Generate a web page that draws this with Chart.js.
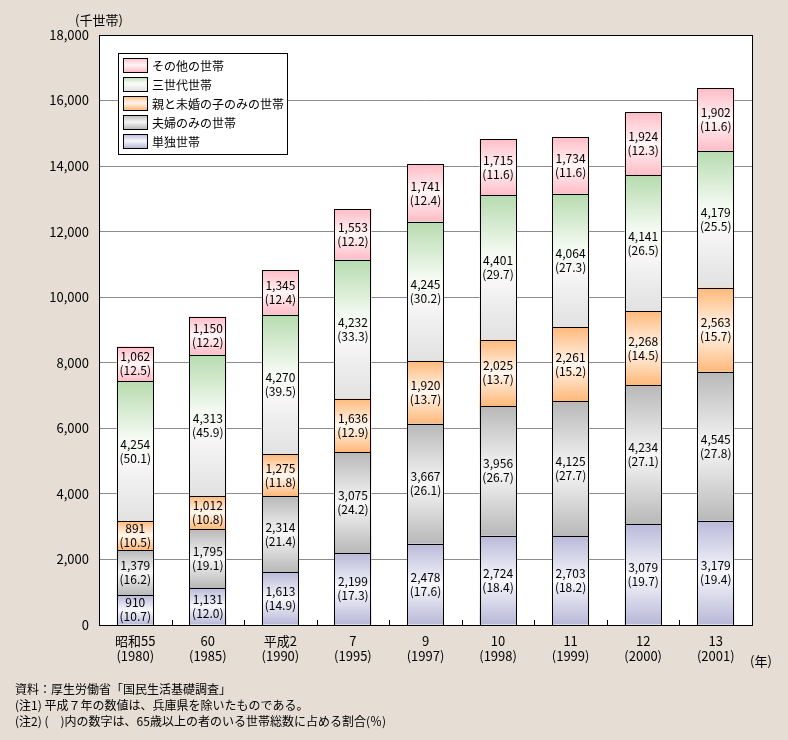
<!DOCTYPE html>
<html lang="ja">
<head>
<meta charset="utf-8">
<script src="https://cdn.jsdelivr.net/npm/chart.js@4.4.0/dist/chart.umd.min.js"></script>
<style>
  html, body { margin: 0; padding: 0; background: #e6ded5; }
  #wrap { position: relative; width: 788px; height: 740px; }
</style>
</head>
<body>
<div id="wrap"><canvas id="householdChart"></canvas></div>
<script>
// 65歳以上の者のいる世帯数（千世帯）と構成割合
const years = [
    ['昭和55', '(1980)'], ['60', '(1985)'], ['平成2', '(1990)'],
    ['7', '(1995)'], ['9', '(1997)'], ['10', '(1998)'],
    ['11', '(1999)'], ['12', '(2000)'], ['13', '(2001)']
];
const seriesNames = ['単独世帯', '夫婦のみの世帯', '親と未婚の子のみの世帯', '三世代世帯', 'その他の世帯'];

const single      = [910, 1131, 1613, 2199, 2478, 2724, 2703, 3079, 3179];
const singlePct   = [10.7, 12.0, 14.9, 17.3, 17.6, 18.4, 18.2, 19.7, 19.4];
const couple      = [1379, 1795, 2314, 3075, 3667, 3956, 4125, 4234, 4545];
const couplePct   = [16.2, 19.1, 21.4, 24.2, 26.1, 26.7, 27.7, 27.1, 27.8];
const parentChild    = [891, 1012, 1275, 1636, 1920, 2025, 2261, 2268, 2563];
const parentChildPct = [10.5, 10.8, 11.8, 12.9, 13.7, 13.7, 15.2, 14.5, 15.7];
const threeGen    = [4254, 4313, 4270, 4232, 4245, 4401, 4064, 4141, 4179];
const threeGenPct = [50.1, 45.9, 39.5, 33.3, 30.2, 29.7, 27.3, 26.5, 25.5];
const other       = [1062, 1150, 1345, 1553, 1741, 1715, 1734, 1924, 1902];
const otherPct    = [12.5, 12.2, 12.4, 12.2, 12.4, 11.6, 11.6, 12.3, 11.6];

const yTicks = [0, 2000, 4000, 6000, 8000, 10000, 12000, 14000, 16000, 18000];

const values = [single, couple, parentChild, threeGen, other];
const pcts = [singlePct, couplePct, parentChildPct, threeGenPct, otherPct];

// グラデーションの色（上→下）
const gradStops = [
    [[0, '#b9b9d9'], [0.5, '#f7f7fc'], [1, '#b7b7d7']],
    [[0, '#b8b8b8'], [0.5, '#f6f6f6'], [1, '#b8b8b8']],
    [[0, '#ffb878'], [0.5, '#fff7ef'], [1, '#ffb878']],
    [[0, '#b6dbae'], [0.4, '#f4faf2'], [0.6, '#f8f6f7'], [0.8, '#ebebeb'], [1, '#e2e2e2']],
    [[0, '#ffbcc6'], [0.5, '#fff5f7'], [1, '#ffbcc6']]
];

const FONT = "'Noto Sans CJK JP', 'Noto Sans', sans-serif";

function makeGradient(ctx, stops, top, bottom) {
    const g = ctx.createLinearGradient(0, top, 0, bottom);
    stops.forEach(function(s) { g.addColorStop(s[0], s[1]); });
    return g;
}

function segmentFill(context) {
    const chart = context.chart;
    const d = context.datasetIndex;
    const stops = gradStops[d];
    if (!chart.chartArea || !chart.scales.y || context.dataIndex === undefined) return stops[0][1];
    const i = context.dataIndex;
    let base = 0;
    for (let k = 0; k < d; k++) base += values[k][i];
    const y = chart.scales.y;
    const top = y.getPixelForValue(base + values[d][i]);
    const bottom = y.getPixelForValue(base);
    return makeGradient(chart.ctx, stops, top, bottom);
}

const plotPlugin = {
    id: 'plotPlugin',
    beforeDraw(chart) {
        const { ctx, chartArea: a } = chart;
        ctx.save();
        ctx.fillStyle = '#ffffff';
        ctx.fillRect(a.left, a.top, a.right - a.left, a.bottom - a.top);
        ctx.restore();
    },
    afterDatasetsDraw(chart) {
        const { ctx, chartArea: a } = chart;
        const x = chart.scales.x;
        ctx.save();

        // 各区分の枠線（1px でくっきり）
        ctx.strokeStyle = '#000';
        ctx.lineWidth = 1;
        values.forEach(function(arr, d) {
            chart.getDatasetMeta(d).data.forEach(function(bar) {
                const l = Math.round(bar.x - bar.width / 2) + 0.5;
                const r = Math.round(bar.x + bar.width / 2) - 0.5;
                const t = Math.round(bar.y) + 0.5;
                const b = Math.round(bar.base) + 0.5;
                ctx.strokeRect(l, t, r - l, b - t);
            });
        });

        // 棒の中の数値ラベル
        ctx.fillStyle = '#000';
        ctx.font = '12px ' + FONT;
        ctx.textAlign = 'center';
        ctx.textBaseline = 'middle';
        values.forEach(function(arr, d) {
            const meta = chart.getDatasetMeta(d);
            meta.data.forEach(function(bar, i) {
                const cy = (bar.y + bar.base) / 2;
                ctx.fillText(arr[i].toLocaleString('en-US'), bar.x, cy - 7);
                ctx.fillText('(' + pcts[d][i].toFixed(1) + ')', bar.x, cy + 7);
            });
        });

        // 下辺の目盛り
        const step = x.getPixelForValue(1) - x.getPixelForValue(0);
        for (let i = 0; i < years.length - 1; i++) {
            const px = Math.round(x.getPixelForValue(i) + step / 2) + 0.5;
            ctx.beginPath();
            ctx.moveTo(px, a.bottom);
            ctx.lineTo(px, a.bottom - 5);
            ctx.stroke();
        }

        // 枠
        ctx.strokeRect(Math.round(a.left) + 0.5, Math.round(a.top) + 0.5,
            Math.round(a.right - a.left), Math.round(a.bottom - a.top));
        ctx.restore();
    },
    afterDraw(chart) {
        const ctx = chart.ctx;
        ctx.save();

        // 凡例
        const lx = 118, ly = 53, lw = 169, lh = 101;
        ctx.fillStyle = '#fff';
        ctx.fillRect(lx, ly, lw, lh);
        ctx.strokeStyle = '#000';
        ctx.lineWidth = 1;
        ctx.strokeRect(lx + 0.5, ly + 0.5, lw, lh);
        ctx.font = '12px ' + FONT;
        ctx.textAlign = 'left';
        ctx.textBaseline = 'middle';
        for (let r = 0; r < seriesNames.length; r++) {
            const d = seriesNames.length - 1 - r;
            const sy = 58 + r * 19;
            ctx.fillStyle = makeGradient(ctx, gradStops[d], sy, sy + 14);
            ctx.fillRect(123, sy, 24, 14);
            ctx.strokeStyle = '#000';
            ctx.strokeRect(123.5, sy + 0.5, 24, 14);
            ctx.fillStyle = '#000';
            ctx.fillText(seriesNames[d], 152, sy + 8);
        }

        // 単位と注記
        ctx.font = '13px ' + FONT;
        ctx.fillText('(千世帯)', 75, 20);
        ctx.fillText('(年)', 750, 661);
        ctx.font = '12px ' + FONT;
        ctx.fillText('資料：厚生労働省「国民生活基礎調査」', 15, 689);
        ctx.fillText('(注1) 平成７年の数値は、兵庫県を除いたものである。', 15, 705);
        ctx.fillText('(注2) (　)内の数字は、65歳以上の者のいる世帯総数に占める割合(％)', 15, 721);
        ctx.restore();
    }
};

Chart.defaults.font.family = FONT;
Chart.defaults.color = '#000';

new Chart(document.getElementById('householdChart'), {
    type: 'bar',
    data: {
        labels: years,
        datasets: values.map(function(arr, d) {
            return {
                label: seriesNames[d],
                data: arr,
                backgroundColor: segmentFill,
                borderWidth: 0,
                categoryPercentage: 1.0,
                barPercentage: 0.51
            };
        })
    },
    options: {
        responsive: true,
        maintainAspectRatio: false,
        animation: false,
        layout: { padding: { left: 0, top: 35, right: 36, bottom: 65 } },
        plugins: {
            legend: { display: false },
            tooltip: { enabled: false }
        },
        scales: {
            x: {
                stacked: true,
                grid: { display: false, drawTicks: false },
                border: { display: false },
                ticks: { font: { size: 13 }, padding: 8, maxRotation: 0 },
                afterFit: function(s) { s.height = 50; }
            },
            y: {
                stacked: true,
                min: 0,
                max: 18000,
                afterBuildTicks: function(s) { s.ticks = yTicks.map(function(v) { return { value: v }; }); },
                grid: { color: '#8c8c8c', drawTicks: false },
                border: { display: false },
                ticks: {
                    font: { size: 13 },
                    padding: 10,
                    callback: function(value) { return value.toLocaleString('en-US'); }
                },
                afterFit: function(s) { s.width = 99; }
            }
        }
    },
    plugins: [plotPlugin]
});
</script>
</body>
</html>
